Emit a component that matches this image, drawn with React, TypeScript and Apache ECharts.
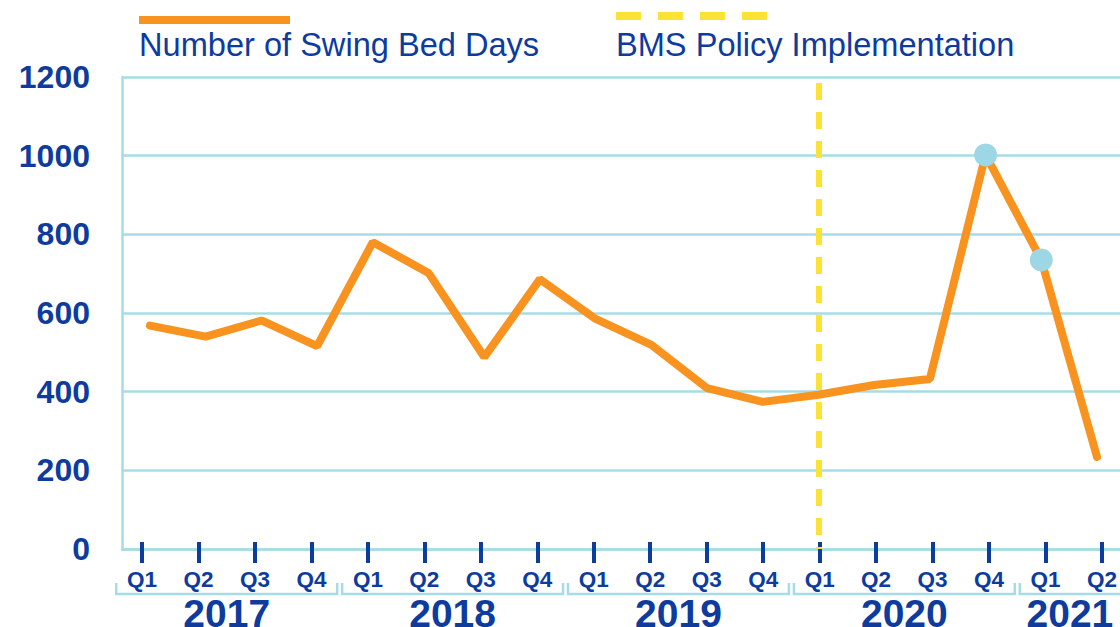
import React, { useEffect, useRef } from "react";
import * as echarts from "echarts";

const categories = [
  "2017 Q1", "2017 Q2", "2017 Q3", "2017 Q4",
  "2018 Q1", "2018 Q2", "2018 Q3", "2018 Q4",
  "2019 Q1", "2019 Q2", "2019 Q3", "2019 Q4",
  "2020 Q1", "2020 Q2", "2020 Q3", "2020 Q4",
  "2021 Q1", "2021 Q2",
];
const swingBedDays = [568, 540, 581, 516, 780, 702, 488, 686, 585, 519, 409, 374, 392, 417, 432, 1002, 735, 234];
const markedPoints = [15, 16];
const yearLabels = ["2017", "2018", "2019", "2020", "2021"];
const yearStartIndex = [0, 4, 8, 12, 16];
const policyIndex = 12;
const policyTop = 1185;
const yMin = 0;
const yMax = 1200;
const yInterval = 200;

const FONT = '"Liberation Sans", Arial, sans-serif';
const BLUE = "#0D3B9E";
const GRID_BLUE = "#A6DCE6";
const ORANGE = "#F7931E";
const YELLOW = "#FCE234";
const DOT = "#9DD6E5";

export default function App() {
  const ref = useRef<HTMLDivElement>(null);
  useEffect(() => {
    if (!ref.current) return;
    const chart = echarts.init(ref.current, undefined, { renderer: "svg" });
    const option: any = {
      animation: false,
      backgroundColor: "#ffffff",
      textStyle: { fontFamily: FONT },
      grid: [
        { left: 122, right: 0, top: 77, bottom: 78 },
        { left: 142, right: 15, top: 77, bottom: 85 },
        { left: 150, right: 23, top: 77, bottom: 78 },
      ],
      xAxis: [
        {
          gridIndex: 0, type: "value", min: 0, max: 1,
          axisLine: { show: true, lineStyle: { color: GRID_BLUE, width: 2.5 } },
          axisTick: { show: false }, axisLabel: { show: false }, splitLine: { show: false },
        },
        {
          gridIndex: 1, type: "category", data: categories, boundaryGap: false,
          axisLine: { show: false },
          axisTick: { show: true, length: 21, alignWithLabel: true, interval: 0, lineStyle: { color: BLUE, width: 4 } },
          axisLabel: {
            interval: 0,
            formatter: (v: string) => v.split(" ")[1],
            fontSize: 22.5, fontWeight: "bold", color: BLUE, fontFamily: FONT,
            margin: 26, lineHeight: 22,
          },
          splitLine: { show: false },
        },
        { gridIndex: 2, type: "category", data: categories, boundaryGap: false, show: false },
      ],
      yAxis: [
        {
          gridIndex: 0, type: "value", min: yMin, max: yMax, interval: yInterval,
          axisLine: { show: true, lineStyle: { color: GRID_BLUE, width: 2.5 } },
          axisTick: { show: false },
          axisLabel: {
            formatter: (v: number) => String(v),
            fontSize: 32, fontWeight: "bold", color: BLUE, fontFamily: FONT, margin: 32,
          },
          splitLine: { show: true, lineStyle: { color: GRID_BLUE, width: 2.5 } },
        },
        { gridIndex: 1, type: "value", min: 0, max: 1, show: false },
        { gridIndex: 2, type: "value", min: yMin, max: yMax, show: false },
      ],
      series: [
        {
          type: "line",
          xAxisIndex: 2, yAxisIndex: 2,
          z: 5,
          symbol: "none",
          data: swingBedDays.map((v, i) =>
            markedPoints.includes(i)
              ? { value: v, symbol: "circle", symbolSize: 23, itemStyle: { color: DOT, borderWidth: 0 } }
              : { value: v }
          ),
          lineStyle: { color: ORANGE, width: 8, cap: "round" },
          markLine: {
            silent: true,
            symbol: "none",
            label: { show: false },
            lineStyle: { color: YELLOW, width: 6, type: [17, 12] },
            data: [[{ coord: [policyIndex, policyTop] }, { coord: [policyIndex, 0] }]],
          },
        },
        {
          type: "custom",
          xAxisIndex: 1, yAxisIndex: 1,
          encode: { x: 0, y: 1 },
          clip: false,
          z: 2,
          data: yearStartIndex.map((s) => [s, 0]),
          renderItem: (params: any, api: any) => {
            const idx = api.value(0);
            const p = api.coord([idx, 0]);
            const q = api.coord([idx + 1, 0]);
            const step = q[0] - p[0];
            const base = p[1];
            const left = p[0] - step / 2 + 2.5;
            const right = p[0] + step * 3.5 - 2.5;
            const visRight = Math.min(right, api.getWidth());
            const cx = (left + visRight) / 2;
            return {
              type: "group",
              children: [
                {
                  type: "polyline",
                  shape: { points: [[left, base + 41], [left, base + 52], [right, base + 52], [right, base + 41]] },
                  style: { stroke: GRID_BLUE, lineWidth: 2.5, fill: null },
                },
                {
                  type: "text",
                  x: cx, y: base + 71,
                  style: {
                    text: yearLabels[params.dataIndex],
                    fill: BLUE,
                    font: `bold 39px ${FONT}`,
                    align: "center",
                    verticalAlign: "middle",
                    lineHeight: 30,
                  },
                },
              ],
            };
          },
        },
      ],
      graphic: [
        {
          type: "line",
          shape: { x1: 139, y1: 20, x2: 290, y2: 20 },
          style: { stroke: ORANGE, lineWidth: 8 },
        },
        {
          type: "text",
          x: 139, y: 44,
          style: { text: "Number of Swing Bed Days", fill: BLUE, font: `32.6px ${FONT}`, verticalAlign: "middle" },
        },
        {
          type: "line",
          shape: { x1: 616, y1: 16, x2: 767, y2: 16 },
          style: { stroke: YELLOW, lineWidth: 8, lineDash: [25, 17] },
        },
        {
          type: "text",
          x: 616, y: 44,
          style: { text: "BMS Policy Implementation", fill: BLUE, font: `32.6px ${FONT}`, verticalAlign: "middle" },
        },
      ],
    };
    chart.setOption(option);
    return () => chart.dispose();
  }, []);
  return (
    <div
      ref={ref}
      style={{ position: "fixed", left: 0, top: 0, width: 1120, height: 627 }}
    />
  );
}
